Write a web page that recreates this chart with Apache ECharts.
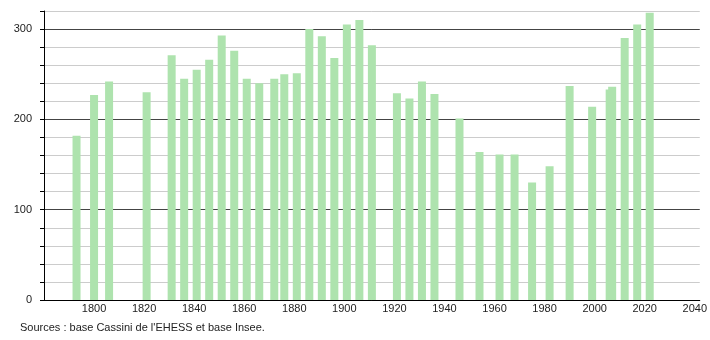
<!DOCTYPE html>
<html>
<head>
    <meta charset="utf-8">
    <title>Population</title>
    <script src="https://cdn.jsdelivr.net/npm/echarts@6/dist/echarts.min.js"></script>
    <style>
        html, body { margin: 0; padding: 0; background: #fff; }
    </style>
</head>
<body>
<div id="main" style="width: 710px;height:340px;"></div>
<script type="text/javascript">
    // années de recensement et population
    var years = [1793, 1800, 1806, 1821, 1831, 1836, 1841, 1846, 1851, 1856,
                 1861, 1866, 1872, 1876, 1881, 1886, 1891, 1896, 1901, 1906,
                 1911, 1921, 1926, 1931, 1936, 1946, 1954, 1962, 1968, 1975,
                 1982, 1990, 1999, 2006, 2007, 2012, 2017, 2022];
    var population = [182, 227, 242, 230, 271, 245, 255, 266, 293, 276,
                      245, 240, 245, 250, 251, 300, 292, 268, 305, 310,
                      282, 229, 223, 242, 228, 201, 164, 161, 161, 130,
                      148, 237, 214, 233, 236, 290, 305, 318];
    var sourceText = "Sources : base Cassini de l'EHESS et base Insee.";

    var myChart = echarts.init(document.getElementById('main'));

    var data = [];
    for (var i = 0; i < years.length; i++) {
        data.push([years[i], population[i]]);
    }

    var option = {
        animation: false,
        textStyle: { fontFamily: 'Liberation Sans, Arial, sans-serif' },
        grid: { left: 44, right: 10, top: 11, bottom: 40 },
        graphic: [{
            type: 'text',
            left: 20,
            top: 322,
            style: { text: sourceText, fontSize: 11, fill: '#222', fontFamily: 'Liberation Sans, Arial, sans-serif' }
        }],
        xAxis: {
            type: 'value',
            min: 1780,
            max: 2042,
            interval: 20,
            axisLine: { show: true, onZero: false, lineStyle: { color: '#000', width: 1 } },
            axisTick: { show: false },
            splitLine: { show: false },
            axisLabel: {
                margin: 3,
                fontSize: 11,
                color: '#222',
                showMinLabel: true,
                showMaxLabel: true,
                formatter: function (v) {
                    if (v % 20 !== 0 || v <= 1780) return '';
                    return String(v);
                }
            }
        },
        yAxis: {
            type: 'value',
            min: 0,
            max: 320,
            interval: 20,
            axisLine: { show: true, lineStyle: { color: '#000', width: 1 } },
            axisTick: { show: true, length: 4, lineStyle: { color: '#000' } },
            splitLine: {
                show: true,
                lineStyle: { color: ['#444', '#ccc', '#ccc', '#ccc', '#ccc'], width: 1 }
            },
            axisLabel: {
                margin: 12,
                fontSize: 11,
                color: '#222',
                formatter: function (v) {
                    return v % 100 === 0 ? String(v) : '';
                }
            }
        },
        series: [{
            type: 'bar',
            barWidth: 8,
            itemStyle: { color: '#aee3ae' },
            data: data
        }]
    };

    myChart.setOption(option);
</script>
</body>
</html>
